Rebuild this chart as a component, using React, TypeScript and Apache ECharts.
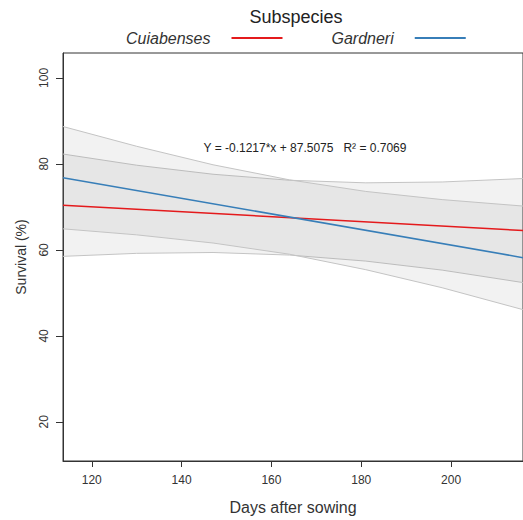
import React, { useEffect, useRef } from "react";
import * as echarts from "echarts";

// Band sample positions (days after sowing)
const days = [113.6, 130, 147, 164, 181, 198, 216];
// Confidence band of Cuiabenses fit
const cuiaLower = [58.5, 59.2, 59.4, 58.8, 57.4, 55.3, 52.4];
const cuiaUpper = [82.3, 79.7, 77.6, 76.2, 75.6, 75.8, 76.6];
// Confidence band of Gardneri fit
const gardLower = [64.9, 63.5, 61.6, 59.0, 55.4, 51.2, 46.1];
const gardUpper = [88.7, 84.1, 79.8, 76.3, 73.6, 71.7, 70.2];
// Fitted lines (end points)
const lineDays = [113.6, 216];
const cuiaFit = [70.4, 64.5];
const gardFit = [76.8, 58.2];
// Ticks
const xTicks = [120, 140, 160, 180, 200];
const yTicks = [20, 40, 60, 80, 100];

const FONT = "Liberation Sans";
const BAND_LINE = "#c4c4c4";
const BAND_FILL = "rgba(128,128,128,0.1)";

function bandSeries(lower: number[], upper: number[]) {
  return {
    type: "custom" as const,
    silent: true,
    clip: true,
    z: 1,
    encode: { x: 0, y: [1, 2] },
    data: days.map((d, i) => [d, lower[i], upper[i]]),
    renderItem: (params: any, api: any) => {
      if (params.dataIndex !== 0) return { type: "group", children: [] };
      const n = days.length;
      const lo: number[][] = [];
      const hi: number[][] = [];
      for (let i = 0; i < n; i++) {
        const x = api.value(0, i);
        lo.push(api.coord([x, api.value(1, i)]));
        hi.push(api.coord([x, api.value(2, i)]));
      }
      const poly = hi.concat(lo.slice().reverse());
      return {
        type: "group",
        children: [
          {
            type: "polygon",
            shape: { points: poly },
            style: { fill: BAND_FILL, stroke: "none" },
          },
          {
            type: "polyline",
            shape: { points: hi },
            style: { fill: "none", stroke: BAND_LINE, lineWidth: 1 },
          },
          {
            type: "polyline",
            shape: { points: lo },
            style: { fill: "none", stroke: BAND_LINE, lineWidth: 1 },
          },
        ],
      };
    },
  };
}

export default function App() {
  const ref = useRef<HTMLDivElement>(null);
  useEffect(() => {
    document.body.style.margin = "0";
    const chart = echarts.init(ref.current!, undefined, { renderer: "svg" });
    chart.setOption({
      animation: false,
      backgroundColor: "#ffffff",
      textStyle: { fontFamily: FONT },
      grid: {
        left: 63,
        right: -6,
        top: 53,
        bottom: 57,
        show: true,
        borderColor: "#333",
        borderWidth: 1,
      },
      legend: {
        data: [
          { name: "Cuiabenses", icon: "rect" },
          { name: "Gardneri", icon: "rect" },
        ],
        left: 121,
        top: 25,
        align: "right",
        itemWidth: 51,
        itemHeight: 2,
        itemGap: 49,
        textStyle: {
          fontFamily: FONT,
          fontStyle: "italic",
          fontSize: 16,
          color: "#333",
          padding: [0, 16, 0, 0],
        },
      },
      xAxis: {
        type: "value",
        min: 113.6,
        max: 216,
        name: "Days after sowing",
        nameLocation: "middle",
        nameGap: 38,
        nameTextStyle: { fontFamily: FONT, fontSize: 16, color: "#333" },
        axisLine: { show: true, lineStyle: { color: "#333", width: 1 } },
        axisTick: {
          show: true,
          length: 6,
          customValues: xTicks,
          lineStyle: { color: "#333" },
        },
        axisLabel: {
          customValues: xTicks,
          margin: 13,
          fontSize: 12,
          color: "#333",
          fontFamily: FONT,
        },
        splitLine: { show: false },
      },
      yAxis: {
        type: "value",
        min: 10.9,
        max: 105.8,
        name: "Survival (%)",
        nameLocation: "middle",
        nameGap: 35,
        nameTextStyle: { fontFamily: FONT, fontSize: 14, color: "#333" },
        axisLine: { show: true, lineStyle: { color: "#333", width: 1 } },
        axisTick: {
          show: true,
          length: 7,
          customValues: yTicks,
          lineStyle: { color: "#333" },
        },
        axisLabel: {
          customValues: yTicks,
          rotate: 90,
          margin: 13,
          fontSize: 12,
          color: "#333",
          fontFamily: FONT,
        },
        splitLine: { show: false },
      },
      graphic: [
        {
          type: "text",
          x: 296,
          y: 17,
          style: {
            text: "Subspecies",
            fontFamily: FONT,
            fontSize: 18,
            fill: "#222",
            textAlign: "center",
            textVerticalAlign: "middle",
          },
        },
        {
          type: "text",
          x: 305,
          y: 148,
          z: 10,
          style: {
            text: "Y = -0.1217*x + 87.5075\u00a0\u00a0\u00a0R² = 0.7069",
            fontFamily: FONT,
            fontSize: 12,
            fill: "#222",
            textAlign: "center",
            textVerticalAlign: "middle",
          },
        },
      ],
      series: [
        bandSeries(cuiaLower, cuiaUpper),
        bandSeries(gardLower, gardUpper),
        {
          name: "Cuiabenses",
          type: "line",
          symbol: "none",
          z: 3,
          color: "#E41A1C",
          lineStyle: { color: "#E41A1C", width: 1.5 },
          data: lineDays.map((d, i) => [d, cuiaFit[i]]),
        },
        {
          name: "Gardneri",
          type: "line",
          symbol: "none",
          z: 3,
          color: "#377EB8",
          lineStyle: { color: "#377EB8", width: 1.5 },
          data: lineDays.map((d, i) => [d, gardFit[i]]),
        },
      ],
    });
    return () => chart.dispose();
  }, []);
  return <div ref={ref} style={{ width: 523, height: 520 }} />;
}
